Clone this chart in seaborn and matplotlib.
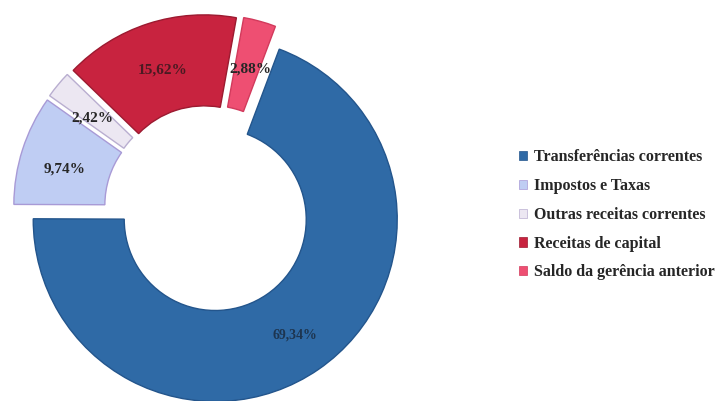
import matplotlib
matplotlib.use("Agg")
import matplotlib.pyplot as plt
import seaborn as sns

# Revenue structure (%)
categories = [
    "Transferências correntes",
    "Impostos e Taxas",
    "Outras receitas correntes",
    "Receitas de capital",
    "Saldo da gerência anterior",
]
shares = [69.34, 9.74, 2.42, 15.62, 2.88]

slice_colors = ["#2f6aa6", "#bfcdf3", "#ece7f2", "#c8233f", "#ee4f72"]
edge_colors = ["#23558c", "#a89ad6", "#b9aed0", "#9c1a30", "#d23a5c"]

sns.set_theme(style="white")
plt.rcParams["font.family"] = ["Liberation Serif", "DejaVu Serif"]

fig = plt.figure(figsize=(7.27, 4.01), dpi=100)
ax = fig.add_axes([0, 0, 1, 1])

radius_px = 182.0
cx, cy = 208.0, 209.0  # ring centre in pixels from top-left


def pct_label(p):
    return f"{p:.2f}%".replace(".", ",")


wedges, texts, autotexts = ax.pie(
    shares,
    colors=slice_colors,
    startangle=69.4,
    counterclock=False,
    explode=[0.07] * len(shares),
    radius=1.0,
    autopct=pct_label,
    pctdistance=0.77,
    wedgeprops=dict(width=0.5, linewidth=1.0),
    textprops=dict(fontsize=11, fontweight="bold", color="#262626"),
)
for w, ec in zip(wedges, edge_colors):
    w.set_edgecolor(ec)
autotexts[0].set_fontsize(10)
autotexts[0].set_color("#1d3550")
autotexts[3].set_color("#4a1a22")

# labels on the smaller slices sit a little lower inside the ring
for t in autotexts[1:]:
    x, y = t.get_position()
    t.set_position((x + 2 / radius_px, y - 7 / radius_px))

ax.set_xlim(-cx / radius_px, (727 - cx) / radius_px)
ax.set_ylim(-(401 - cy) / radius_px, cy / radius_px)
ax.set_aspect("auto")
ax.axis("off")

leg = fig.legend(
    wedges,
    categories,
    loc="upper left",
    bbox_to_anchor=(505 / 727, 1 - 135 / 401),
    frameon=False,
    handlelength=0.5,
    handleheight=0.5,
    handletextpad=0.4,
    labelspacing=0.8,
    prop=dict(family="Liberation Serif", weight="bold", size=11.5),
)
for h in leg.legend_handles:
    h.set_linewidth(0.5)

fig.savefig("out.png", dpi=100, facecolor="white")
